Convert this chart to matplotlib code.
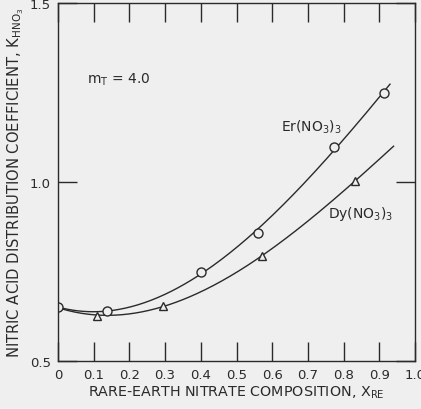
import numpy as np
import matplotlib.pyplot as plt

er_x = [0.0, 0.137, 0.40, 0.56, 0.773, 0.913]
er_k = [0.65, 0.64, 0.749, 0.857, 1.098, 1.249]
dy_x = [0.0, 0.109, 0.294, 0.571, 0.832]
dy_k = [0.65, 0.626, 0.654, 0.793, 1.003]

x_ticks = [0, 0.1, 0.2, 0.3, 0.4, 0.5, 0.6, 0.7, 0.8, 0.9, 1.0]
x_labels = ['0', '0.1', '0.2', '0.3', '0.4', '0.5', '0.6', '0.7', '0.8', '0.9', '1.0']
y_ticks = [0.5, 1.0, 1.5]
y_labels = ['0.5', '1.0', '1.5']

ink = '#2a2a2a'
bg = '#efefef'
plt.rcParams['font.family'] = ['DejaVu Sans']

fig = plt.figure(figsize=(4.21, 4.10), dpi=100, facecolor=bg)
ax = fig.add_axes([58 / 421, 48 / 410, 357 / 421, 358 / 410], facecolor=bg)

# smooth fitted curves through the measured points
er_fit = np.polyfit(er_x, er_k, 3)
dy_fit = np.polyfit(dy_x, dy_k, 3)
xs_er = np.linspace(0, 0.93, 200)
xs_dy = np.linspace(0, 0.94, 200)
ax.plot(xs_er, np.polyval(er_fit, xs_er), color=ink, lw=1.0)
ax.plot(xs_dy, np.polyval(dy_fit, xs_dy), color=ink, lw=1.0)

ax.plot(er_x, er_k, 'o', ms=6.5, mfc=bg, mec=ink, mew=1.0)
ax.plot(dy_x[1:], dy_k[1:], '^', ms=6, mfc=bg, mec=ink, mew=1.0)

ax.set_xlim(0, 1.0)
ax.set_ylim(0.5, 1.5)
ax.set_xticks(x_ticks)
ax.set_xticklabels(x_labels)
ax.set_yticks(y_ticks)
ax.set_yticklabels(y_labels)
ax.tick_params(direction='in', length=14, width=1.0, colors=ink,
               top=True, right=True, labelsize=9.5, pad=5)
for s in ax.spines.values():
    s.set_color(ink)
    s.set_linewidth(1.0)

ax.text(0.082, 1.288, r'm$_\mathregular{T}$ = 4.0', fontsize=10, color=ink, va='center')
ax.text(0.625, 1.156, r'Er(NO$_\mathregular{3}$)$_\mathregular{3}$', fontsize=10, color=ink, va='center')
ax.text(0.757, 0.913, r'Dy(NO$_\mathregular{3}$)$_\mathregular{3}$', fontsize=10, color=ink, va='center')

ax.set_xlabel(r'RARE-EARTH NITRATE COMPOSITION, X$_\mathregular{RE}$',
              fontsize=10.3, color=ink, labelpad=2)
ax.set_ylabel(r'NITRIC ACID DISTRIBUTION COEFFICIENT, K$_\mathregular{HNO_3}$',
              fontsize=10.6, color=ink, labelpad=3)

fig.savefig('out.png', dpi=100, facecolor=bg)
